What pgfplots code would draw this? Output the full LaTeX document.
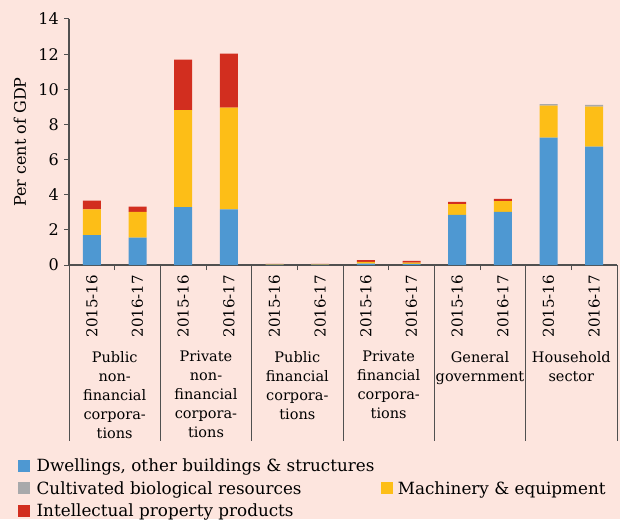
\documentclass[border=0pt]{standalone}
\usepackage{pgfplots}
\pgfplotsset{compat=1.18}
\usepackage{fontspec}
\setmainfont{DejaVu Serif}
\usetikzlibrary{backgrounds}

\definecolor{bgpink}{HTML}{FDE5DE}
\definecolor{cblue}{HTML}{4E98D2}
\definecolor{cyellow}{HTML}{FDBE17}
\definecolor{cred}{HTML}{D22E1F}
\definecolor{cgray}{HTML}{A8A9AB}
\definecolor{axisgray}{HTML}{505050}

\tikzset{grplabel/.style={anchor=north, align=center, inner sep=0pt, yshift=-86pt, font=\fontsize{14.5}{19}\selectfont}}

\begin{document}
\begin{tikzpicture}
\begin{axis}[
  name=main,
  scale only axis,
  width=548pt, height=246pt,
  ybar stacked, bar width=18pt,
  xmin=0.5, xmax=12.5,
  ymin=0, ymax=14,
  clip=false,
  axis x line*=bottom,
  axis y line*=left,
  axis line style={axisgray, line width=1.1pt},
  xtick={1,...,12},
  xticklabels={2015-16,2016-17,2015-16,2016-17,2015-16,2016-17,2015-16,2016-17,2015-16,2016-17,2015-16,2016-17},
  major x tick style={draw=none},
  minor xtick={1.5,3.5,5.5,7.5,9.5,11.5},
  minor tick style={axisgray, line width=1pt},
  major y tick style={axisgray, line width=1pt},
  minor tick length=5pt,
  major tick length=5pt,
  tick align=outside,
  xticklabel style={rotate=90, anchor=east, inner sep=0pt, xshift=-5pt, font=\fontsize{15}{18}\selectfont},
  ytick={0,2,...,14},
  yticklabel style={font=\fontsize{16}{18}\selectfont, inner sep=0pt, xshift=-5pt},
  /pgf/number format/assume math mode=true,
  ylabel={Per cent of GDP},
  ylabel style={at={(axis description cs:0,0.5)}, anchor=center, yshift=49pt, font=\fontsize{16}{18}\selectfont},
]
% dwellings, other buildings & structures
\addplot[fill=cblue, draw=none] coordinates {(1,1.70) (2,1.56) (3,3.30) (4,3.17) (5,0.02) (6,0.02) (7,0.08) (8,0.06) (9,2.85) (10,3.03) (11,7.25) (12,6.74)};
% machinery & equipment
\addplot[fill=cyellow, draw=none] coordinates {(1,1.47) (2,1.47) (3,5.52) (4,5.78) (5,0.03) (6,0.03) (7,0.10) (8,0.08) (9,0.62) (10,0.61) (11,1.82) (12,2.27)};
% intellectual property products
\addplot[fill=cred, draw=none] coordinates {(1,0.49) (2,0.29) (3,2.87) (4,3.08) (5,0.02) (6,0.01) (7,0.10) (8,0.09) (9,0.12) (10,0.12) (11,0) (12,0)};
% cultivated biological resources
\addplot[fill=cgray, draw=none] coordinates {(1,0) (2,0) (3,0) (4,0) (5,0) (6,0) (7,0) (8,0) (9,0) (10,0) (11,0.08) (12,0.10)};

% group separators
\draw[axisgray, line width=0.8pt] (axis cs:0.5,0) -- ++(0pt,-176pt);
\draw[axisgray, line width=0.8pt] (axis cs:2.5,0) -- ++(0pt,-176pt);
\draw[axisgray, line width=0.8pt] (axis cs:4.5,0) -- ++(0pt,-176pt);
\draw[axisgray, line width=0.8pt] (axis cs:6.5,0) -- ++(0pt,-176pt);
\draw[axisgray, line width=0.8pt] (axis cs:8.5,0) -- ++(0pt,-176pt);
\draw[axisgray, line width=0.8pt] (axis cs:10.5,0) -- ++(0pt,-176pt);
\draw[axisgray, line width=0.8pt] (axis cs:12.5,0) -- ++(0pt,-176pt);
% group labels
\node[grplabel] at (axis cs:1.5,0) {Public\\non-\\financial\\corpora-\\tions};
\node[grplabel] at (axis cs:3.5,0) {Private\\non-\\financial\\corpora-\\tions};
\node[grplabel] at (axis cs:5.5,0) {Public\\financial\\corpora-\\tions};
\node[grplabel] at (axis cs:7.5,0) {Private\\financial\\corpora-\\tions};
\node[grplabel] at (axis cs:9.5,0) {General\\government};
\node[grplabel] at (axis cs:11.5,0) {Household\\sector};
\end{axis}

% legend-only axis
\begin{axis}[
  at={(main.south west)}, anchor=south west,
  scale only axis, width=548pt, height=246pt,
  hide axis, xmin=0, xmax=1, ymin=0, ymax=1,
  legend columns=2,
  legend cell align=left,
  legend style={draw=none, fill=none, inner sep=0pt,
    at={(axis description cs:0,0)}, anchor=north west,
    xshift=-51pt, yshift=-192pt,
    font=\fontsize{16.8}{20}\selectfont,
    /tikz/every even column/.append style={column sep=5pt},
    /tikz/row sep=4pt},
]
\addlegendimage{legend image code/.code={\fill[cblue] (0pt,-5pt) rectangle (11pt,6pt); \path (16pt,0pt);}}
\addlegendentry{Dwellings, other buildings \& structures}
\addlegendimage{empty legend}
\addlegendentry{}
\addlegendimage{legend image code/.code={\fill[cgray] (0pt,-5pt) rectangle (11pt,6pt); \path (16pt,0pt);}}
\addlegendentry{Cultivated biological resources}
\addlegendimage{legend image code/.code={\fill[cyellow] (0pt,-5pt) rectangle (11pt,6pt); \path (14pt,0pt);}}
\addlegendentry{Machinery \& equipment}
\addlegendimage{legend image code/.code={\fill[cred] (0pt,-5pt) rectangle (11pt,6pt); \path (16pt,0pt);}}
\addlegendentry{Intellectual property products}
\end{axis}

\begin{scope}[on background layer]
\fill[bgpink] ([xshift=-69pt,yshift=-254pt]main.south west) rectangle ([xshift=3pt,yshift=19pt]main.north east);
\end{scope}
\pgfresetboundingbox
\path ([xshift=-69pt,yshift=-254pt]main.south west) rectangle ([xshift=3pt,yshift=19pt]main.north east);
\end{tikzpicture}
\end{document}
